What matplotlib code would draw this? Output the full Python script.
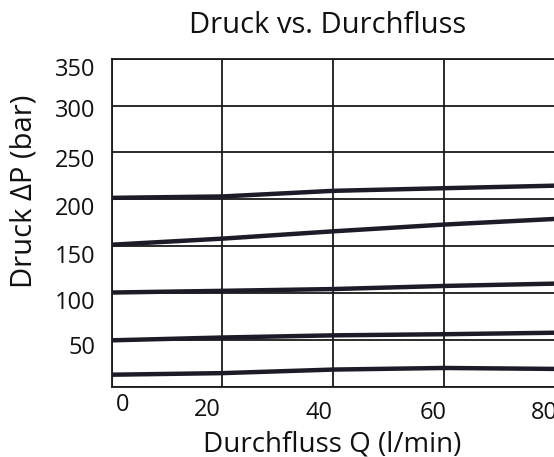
import matplotlib
matplotlib.use("Agg")
from matplotlib import pyplot as plt
from matplotlib.transforms import ScaledTranslation

plt.rcParams['font.family'] = ['Open Sans', 'DejaVu Sans']

# flow Q (l/min) and pressure curves (bar)
flow = [0, 20, 40, 60, 80]
curve_200 = [201.5, 203, 209, 211.8, 214.5]
curve_150 = [151.5, 158, 165.8, 173, 179]
curve_100 = [100.5, 102.3, 104.2, 107.5, 110]
curve_50 = [49.5, 52.5, 54.8, 56, 57.6]
curve_15 = [12.8, 14.5, 18.3, 20, 19]
curves = [curve_200, curve_150, curve_100, curve_50, curve_15]

x_ticks = [0, 20, 40, 60, 80]
y_ticks = [50, 100, 150, 200, 250, 300, 350]

line_clr = '#1c1b27'

fig = plt.figure(figsize=(5.54, 4.57), dpi=100)
ax = fig.add_axes([0.2016, 0.1538, 0.80, 0.7178])

for c in curves:
    ax.plot(flow, c, color=line_clr, lw=3.2, solid_capstyle='butt', zorder=3)

ax.set_xlim(0, 80)
ax.set_ylim(0, 350)
ax.set_xticks(x_ticks)
ax.set_yticks(y_ticks + [0])
ax.set_yticklabels([str(v) for v in y_ticks] + [''])
ax.grid(True, color='#1a1a1a', lw=1.3)
ax.set_axisbelow(True)
for s in ['left', 'bottom', 'top']:
    ax.spines[s].set_color('#1a1a1a')
    ax.spines[s].set_linewidth(1.3)
ax.spines['right'].set_visible(False)
ax.tick_params(length=0, labelsize=17, colors='#111111')
ax.tick_params(axis='x', pad=5.4)
ax.tick_params(axis='y', pad=12)

# the labels in the original sit a bit off their grid lines
x_shift = [(11, 1), (-15, -4), (-14, -7), (-11, -7), (-11, -7)]
for lab, (dx, dy) in zip(ax.get_xticklabels(), x_shift):
    lab.set_transform(lab.get_transform() + ScaledTranslation(dx / 100, dy / 100, fig.dpi_scale_trans))
y_shift = [-5.5, -7, -7.4, -7, -6, -2.5, -8, 0]
for lab, dy in zip(ax.get_yticklabels(), y_shift):
    lab.set_transform(lab.get_transform() + ScaledTranslation(0, dy / 100, fig.dpi_scale_trans))

fig.text(327.5 / 554, 1 - 33 / 457, 'Druck vs. Durchfluss', ha='center', va='baseline', fontsize=21, color='#111111')
fig.text(332.5 / 554, 1 - 452 / 457, 'Durchfluss Q (l/min)', ha='center', va='baseline', fontsize=20, color='#111111')
fig.text(24.5 / 554, 1 - 191 / 457, 'Druck ΔP (bar)', ha='center', va='center', rotation=90, fontsize=21, color='#111111')

fig.savefig('out.png', dpi=100)
